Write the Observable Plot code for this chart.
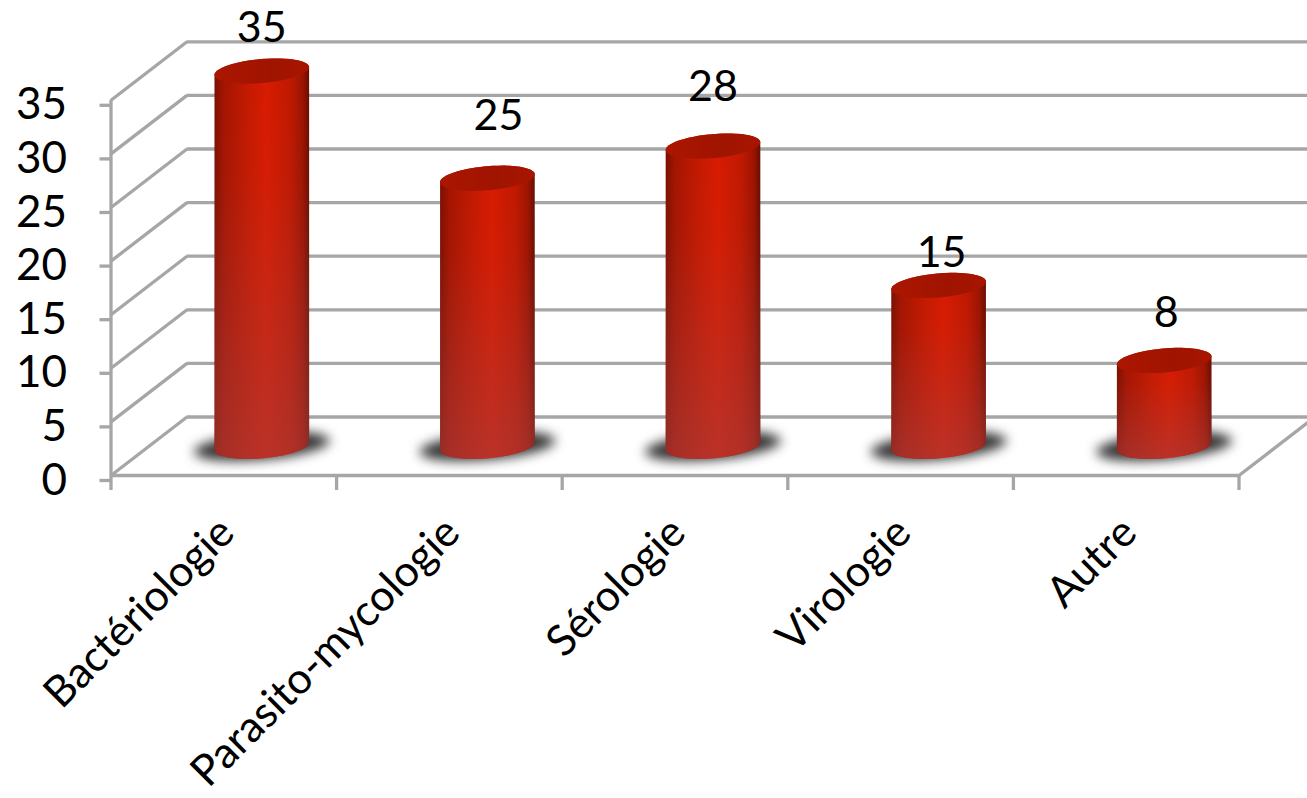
<!DOCTYPE html>
<html><head><meta charset="utf-8">
<script src="https://cdn.jsdelivr.net/npm/d3@7"></script>
<script src="https://cdn.jsdelivr.net/npm/@observablehq/plot@0.6"></script>
<style>html,body{margin:0;padding:0;background:#fff;overflow:hidden}svg{display:block}</style>
</head><body><div id="chart"></div>
<script>
const categories = ["Bactériologie","Parasito-mycologie","Sérologie","Virologie","Autre"];
const values = [35,25,28,15,8];
const yTicks = [0,5,10,15,20,25,30,35];
const xTicks = [0,1,2,3,4,5];

// Presentation constants (not data)
const W=1307,H=798,mL=110.5,mB=323;
const pxX=225.6, pxY=10.72;                 // pixels per scale unit
const depthX=76/pxX, depthY=58.5/pxY;       // pseudo-3D floor depth in scale units
const labelLift=[43,62,59,32,47].map(p=>p/pxY);
const labelShift=[0,11,0,3,2].map(p=>p/pxX);
const tilt=5*Math.PI/180;
const GRID="#a6a6a6", FONT="Lato, 'Open Sans', sans-serif";

const pts=(cat,i,v,rx,ry,from,to,n=48)=>d3.range(n+1).map(k=>{
  const t=(from+(to-from)*k/n)*Math.PI/180;
  const ex=rx*Math.cos(t), ey=ry*Math.sin(t);
  return {cat,
    x:i+.5+depthX/2+(ex*Math.cos(tilt)-ey*Math.sin(tilt))/pxX,
    y:v+depthY/2+(ex*Math.sin(tilt)+ey*Math.cos(tilt))/pxY};
});
const bars=categories.map((c,i)=>({c,i,v:values[i]}));
const bodies=bars.flatMap(b=>[...pts(b.c,b.i,b.v,47.5,12,180,0),...pts(b.c,b.i,0,47.5,12,0,-180)]);
const caps=bars.flatMap(b=>pts(b.c,b.i,b.v,47.5,12,0,360));
const shadows=bars.flatMap(b=>pts(b.c,b.i,0,68,13.5,0,360));

const defs=()=>d3.create("svg:g").html(`<defs>
<linearGradient id="hg" x1="0" x2="1" y1="0" y2="0">
<stop offset="0" stop-color="#7a0f00"/><stop offset=".1" stop-color="#a41400"/>
<stop offset=".35" stop-color="#c41900"/><stop offset=".55" stop-color="#d81b00"/>
<stop offset=".8" stop-color="#c01800"/><stop offset=".93" stop-color="#9c1300"/><stop offset="1" stop-color="#660d00"/>
</linearGradient>
<linearGradient id="vg" x1="0" x2="0" y1="0" y2="1">
<stop offset="0" stop-color="#a84040" stop-opacity="0"/><stop offset=".3" stop-color="#a84040" stop-opacity=".08"/>
<stop offset="1" stop-color="#a84040" stop-opacity=".62"/>
</linearGradient>
<linearGradient id="cg" x1="0" x2="1" y1="0" y2="0">
<stop offset="0" stop-color="#ac1600"/><stop offset=".6" stop-color="#9f1400"/><stop offset="1" stop-color="#a81500"/>
</linearGradient></defs>`).node();

const chart=Plot.plot({
  width:W,height:H,marginLeft:mL,marginRight:0,marginTop:0,marginBottom:mB,
  x:{type:"linear",domain:[0,(W-mL)/pxX],range:[mL,W],axis:null},
  y:{type:"linear",domain:[0,(H-mB)/pxY],range:[H-mB,0],axis:null},
  style:{fontFamily:FONT,background:"#fff",color:"#000"},
  marks:[
    defs,
    Plot.ruleY(yTicks,{y:d=>d+depthY,x1:depthX,x2:5+depthX,stroke:GRID,strokeWidth:3.3}),
    Plot.link(yTicks,{x1:0,y1:d=>d,x2:depthX,y2:d=>d+depthY,stroke:GRID,strokeWidth:3.3}),
    Plot.link([0],{x1:5,y1:0,x2:5+depthX,y2:depthY,stroke:GRID,strokeWidth:3.3}),
    Plot.ruleY([0],{x1:0,x2:5,stroke:GRID,strokeWidth:3.3}),
    Plot.ruleX([0],{y1:0,y2:35,stroke:GRID,strokeWidth:3.3}),
    Plot.axisX({ticks:xTicks,tickFormat:()=>"",tickSize:15,stroke:GRID,strokeWidth:3.3,label:null}),
    Plot.axisY({ticks:yTicks,tickSize:11,tickPadding:33,fontSize:44,stroke:GRID,strokeWidth:3.3,label:null,fill:"#000",dy:5}),
    Plot.line(shadows,{x:"x",y:"y",z:"cat",fill:"#2a2a2a",stroke:"none",imageFilter:"blur(6px)",fillOpacity:.95}),
    Plot.line(bodies,{x:"x",y:"y",z:"cat",fill:"url(#hg)",stroke:"none"}),
    Plot.line(bodies,{x:"x",y:"y",z:"cat",fill:"url(#vg)",stroke:"none"}),
    Plot.line(caps,{x:"x",y:"y",z:"cat",fill:"url(#cg)",stroke:"none"}),
    Plot.text(bars,{x:d=>d.i+.5+depthX/2+labelShift[d.i],y:d=>d.v+depthY/2+labelLift[d.i],text:d=>String(d.v),fontSize:43,fill:"#000"}),
    Plot.text(bars,{x:d=>d.i+.5,y:0,text:"c",rotate:-45,textAnchor:"end",fontSize:43,fill:"#000",dx:3,dy:50})
  ]
});
document.getElementById("chart").append(chart);
</script></body></html>
